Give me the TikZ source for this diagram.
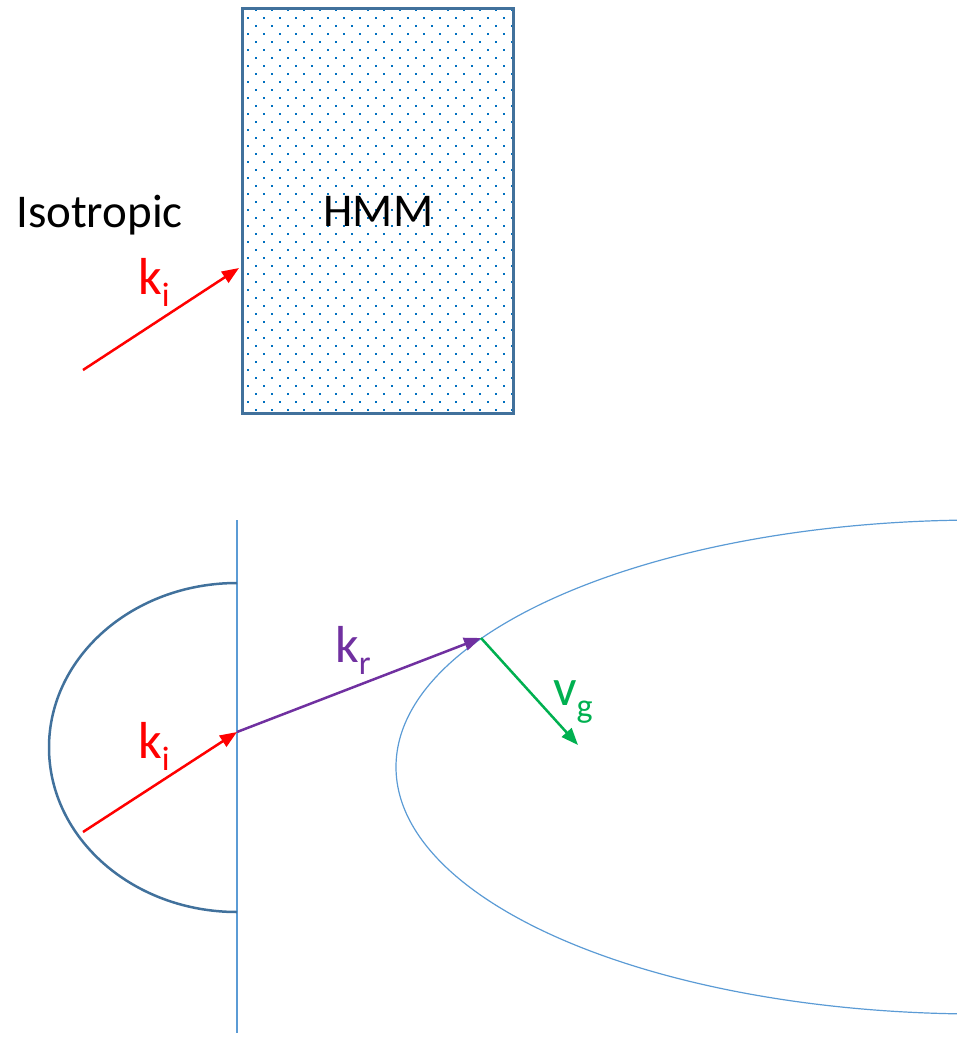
\documentclass[tikz,border=0pt]{standalone}
\usepackage{fontspec}
\setmainfont{Carlito}
\usetikzlibrary{arrows.meta}
\definecolor{boxblue}{HTML}{41719C}
\definecolor{dotblue}{HTML}{0070C0}
\definecolor{lineblue}{HTML}{5B9BD5}
\definecolor{kred}{HTML}{FF0000}
\definecolor{kpurple}{HTML}{7030A0}
\definecolor{vgreen}{HTML}{00B050}
\newcommand{\mysub}[1]{\raisebox{-0.24em}{\fontsize{34}{34}\selectfont #1}}
\tikzset{
  bigtext/.style={inner sep=0pt, font=\fontsize{47}{56}\selectfont},
  labeltext/.style={inner sep=0pt, font=\fontsize{52}{60}\selectfont},
  vec/.style={line width=2.5pt, -{Triangle[length=17pt,width=13pt]}},
  thinblue/.style={draw=lineblue, line width=1.2pt},
  arcstyle/.style={draw=boxblue, line width=2.5pt},
}
\begin{document}
\begin{tikzpicture}[x=1pt,y=1pt]
\useasboundingbox (0,0) rectangle (957,-1037);
% ---------- top part ----------
\foreach \j in {0,...,50}{
  \pgfmathsetmacro{\yy}{-(10+8*\j)}
  \pgfmathtruncatemacro{\rowpar}{mod(\j,2)}
  \ifnum\rowpar=0 \def\xs{256}\else\def\xs{248}\fi
  \foreach \i in {0,...,16}{
    \pgfmathsetmacro{\xx}{\xs+16*\i}
    \ifdim\xx pt<514pt
      \fill[dotblue] (\xx-1,\yy-1) rectangle (\xx+1,\yy+1);
    \fi
  }
}
\node (hmm) [draw=boxblue, line width=3pt, minimum width=271pt, minimum height=405pt, inner sep=0pt] at (377.5,-210.5) {};
\node (hmmlabel) [bigtext, anchor=base] at (378.5,-226) {HMM};
\node (iso) [bigtext, anchor=base west] at (16,-227) {Isotropic};
\coordinate (ta) at (83,-370);
\coordinate (tb) at (239,-268);
\draw[vec, kred] (ta) -- (tb);
\node (tki) [labeltext, anchor=base west, text=kred] at (138,-294) {k\mysub{i}};
% ---------- bottom part ----------
\begin{scope}
\clip (0,0) rectangle (957,-1037);
\draw[thinblue] (980,-767) ellipse [x radius=584pt, y radius=247pt];
\end{scope}
\coordinate (lt) at (237,-520);
\coordinate (lb) at (237,-1033);
\draw[thinblue] (lt) -- (lb);
\draw[arcstyle] (237,-583) arc[start angle=90, end angle=270, x radius=188pt, y radius=164.5pt];
\coordinate (ba) at (83,-832);
\coordinate (bo) at (237,-732);
\coordinate (bp) at (481,-638);
\coordinate (bg) at (578,-745);
\draw[vec, kred] (ba) -- (bo);
\draw[vec, kpurple] (bo) -- (bp);
\draw[vec, vgreen] (bp) -- (bg);
\node (bki) [labeltext, anchor=base west, text=kred] at (138,-758) {k\mysub{i}};
\node (bkr) [labeltext, anchor=base west, text=kpurple] at (335,-662) {k\mysub{r}};
\node (bvg) [labeltext, anchor=base west, text=vgreen] at (553,-705) {v\mysub{g}};
\end{tikzpicture}
\end{document}
